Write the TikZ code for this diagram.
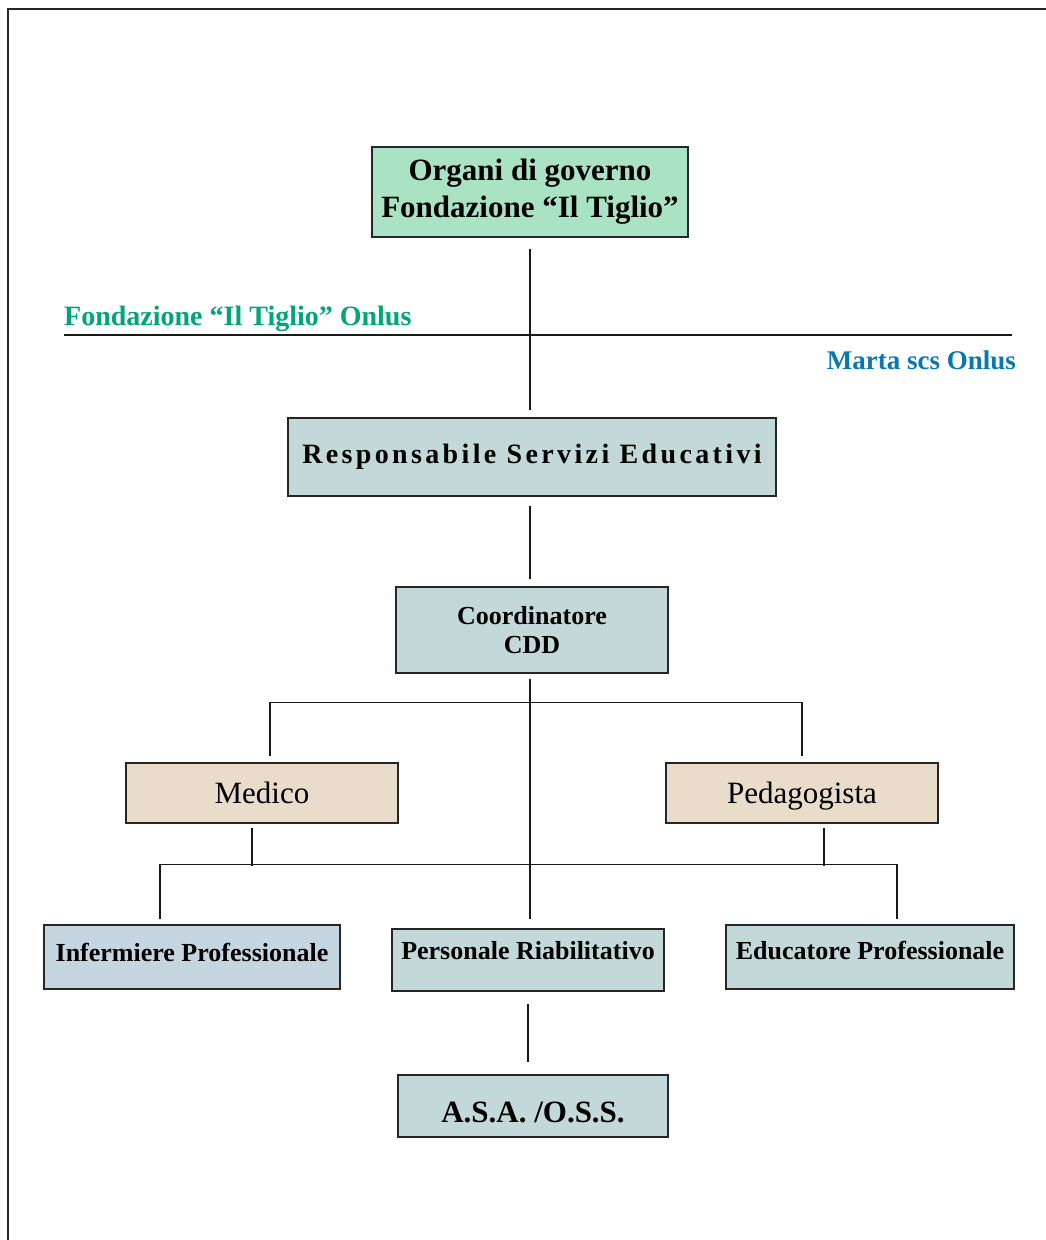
\documentclass[tikz,border=0pt]{standalone}
\usepackage{fontspec}
\setmainfont{Liberation Serif}
\newfontfamily\spacedfont[LetterSpace=12]{Liberation Serif}
\usetikzlibrary{calc}
\definecolor{govfill}{HTML}{A9E3C4}
\definecolor{tealfill}{HTML}{C3D8D8}
\definecolor{bluefill}{HTML}{C5D6E1}
\definecolor{beigefill}{HTML}{EADCCB}
\definecolor{fgreen}{HTML}{00A67A}
\definecolor{fblue}{HTML}{0A78B0}
\begin{document}
\begin{tikzpicture}[x=1pt,y=-1pt,
  box/.style={draw=black!85, line width=1.3pt, inner sep=0pt, align=center},
  conn/.style={line width=1.3pt, draw=black!90},
  bigbold/.style={font=\bfseries\fontsize{31}{37}\selectfont},
  midbold/.style={font=\bfseries\fontsize{26}{29}\selectfont},
  plain/.style={font=\fontsize{31}{37}\selectfont, text height=21pt, text depth=1pt}]
\useasboundingbox (0,0) rectangle (1046,1240);
\draw[line width=1.6pt, black!85] (1046,9) -- (8,9) -- (8,1240);

% boxes
\node[box, fill=govfill, bigbold, minimum width=316pt, minimum height=90pt] (gov) at (530,192) {Organi di governo\\Fondazione “Il Tiglio”};
\node[box, fill=tealfill, minimum width=488pt, minimum height=78pt, font=\spacedfont\bfseries\fontsize{28}{30}\selectfont] (resp) at (532,457) {Responsabile Servizi Educativi};
\node[box, fill=tealfill, midbold, minimum width=272pt, minimum height=86pt] (coord) at (532,630) {Coordinatore\\CDD};
\node[box, fill=beigefill, plain, minimum width=272pt, minimum height=60pt] (med) at (262,793) {Medico};
\node[box, fill=beigefill, plain, minimum width=272pt, minimum height=60pt] (ped) at (802,793) {Pedagogista};
\node[box, fill=bluefill, midbold, minimum width=296pt, minimum height=64pt, text height=18pt, text depth=10pt] (inf) at (192,957) {Infermiere Professionale};
\node[box, fill=tealfill, midbold, minimum width=272pt, minimum height=62pt, text height=18pt, text depth=20pt] (pers) at (528,960) {Personale Riabilitativo};
\node[box, fill=tealfill, midbold, minimum width=288pt, minimum height=64pt, text height=18pt, text depth=14pt] (edu) at (870,957) {Educatore Professionale};
\node[box, fill=tealfill, bigbold, minimum width=270pt, minimum height=62pt, text height=32pt, text depth=0pt] (asa) at (533,1106) {A.S.A. /O.S.S.};

% organisation labels and divider
\coordinate (divL) at (64,335);
\coordinate (divR) at (1012,335);
\draw[conn] (divL) -- (divR);
\node[anchor=base west, inner sep=0pt, text=fgreen, font=\bfseries\fontsize{28}{30}\selectfont] (lblF) at (64,325) {Fondazione “Il Tiglio” Onlus};
\node[anchor=base east, inner sep=0pt, text=fblue, font=\bfseries\fontsize{27}{30}\selectfont] (lblM) at (1016,369) {Marta scs Onlus};

% connectors
\draw[conn] ($(gov.south)+(0,11)$) -- ($(resp.north)+(-2,-7)$);
\draw[conn] ($(resp.south)+(-2,9)$) -- ($(coord.north)+(-2,-7)$);
\draw[conn] ($(coord.south)+(-2,5)$) -- ($(pers.north)+(2,-9)$);
\draw[conn] ($(med.north)+(8,-6)$) |- ($(ped.north)+(0,-60)$) -- ($(ped.north)+(0,-6)$);
\draw[conn] ($(med.south)+(-10,4)$) -- ($(med.south)+(-10,42)$);
\draw[conn] ($(ped.south)+(22,4)$) -- ($(ped.south)+(22,42)$);
\draw[conn] ($(inf.north)+(-32,-5)$) |- ($(edu.north)+(27,-60)$) -- ($(edu.north)+(27,-5)$);
\draw[conn] ($(pers.south)+(0,12)$) -- ($(asa.north)+(-5,-12)$);
\end{tikzpicture}
\end{document}
